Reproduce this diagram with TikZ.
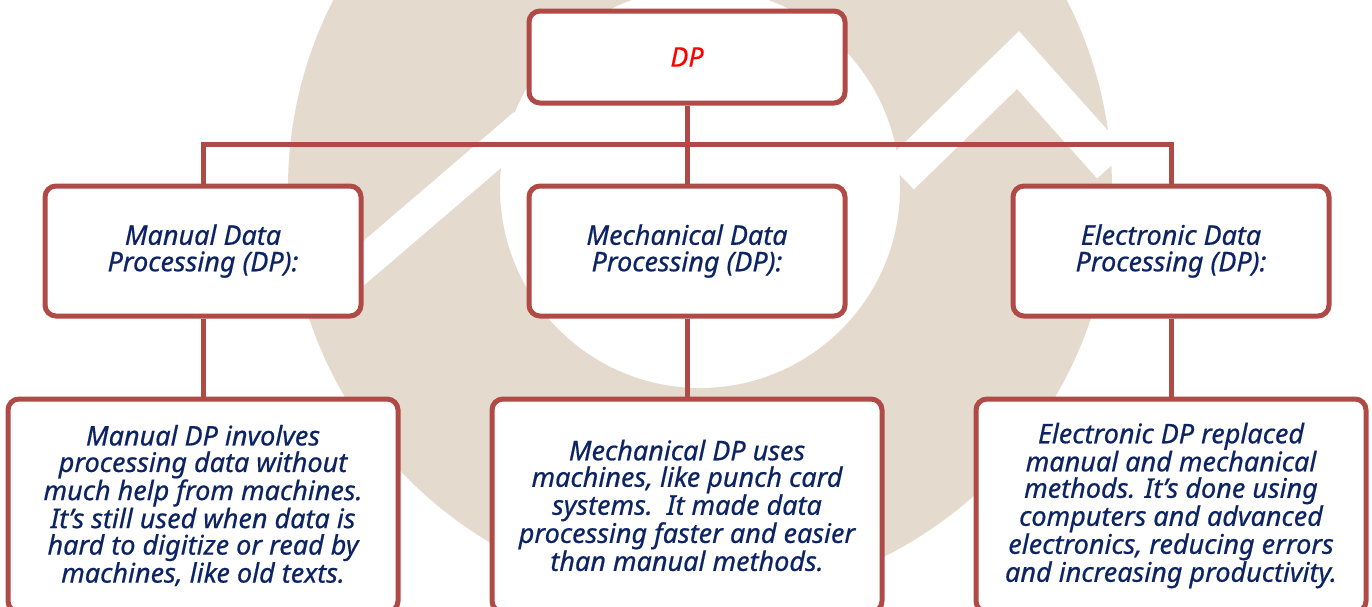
\documentclass[tikz,border=0pt]{standalone}
\usepackage{fontspec}
\setmainfont{Noto Sans}[ItalicFeatures={FakeBold=0.6}]
\usetikzlibrary{positioning, calc}
\definecolor{boxred}{RGB}{175,74,71}
\definecolor{inkblue}{RGB}{12,35,100}
\definecolor{ringtan}{RGB}{228,218,206}
\newcommand\apos{\char"27\relax}
\tikzset {
    x=1pt, y=1pt,
    node distance=78pt,
    every node/.style={font=\itshape\fontsize{27}{26.5}\selectfont, text=inkblue, align=center},
    topbox/.style={draw=boxred, line width=5pt, rounded corners=11pt, fill=white,
        minimum width=316pt, minimum height=92pt},
    head/.style={topbox, minimum height=130pt},
    desc/.style={topbox, minimum width=390pt, minimum height=213pt},
    link/.style={boxred, line width=5pt}
}

\begin{document}
\begin{tikzpicture}
    \useasboundingbox (0,0) rectangle (1372,-606);
    \clip (0,0) rectangle (1372,-606);

    \fill[ringtan, even odd rule] (700,-188) circle [radius=412pt]
        (700,-188) circle [radius=200pt];
    \draw[white, line width=34pt] (330,-292) -- (525,-125);
    \draw[white, line width=40pt, line join=miter] (900,-175) -- (1018,-60) -- (1112,-165);

    \node[topbox] (dp) at (687,-57) {\textcolor{red}{DP}};
    \node[head, below=of dp] (mech) {Mechanical Data\\ Processing (DP):};
    \node[head, left=163pt of mech] (man) {Manual Data\\ Processing (DP):};
    \node[head, right=163pt of mech] (elec) {Electronic Data\\ Processing (DP):};

    \node[desc, below=of man] (mandesc) {Manual DP involves\\ processing data without\\ much help from machines.\\ It\apos s still used when data is\\ hard to digitize or read by\\ machines, like old texts.};
    \node[desc, below=of mech] (mechdesc) {Mechanical DP uses\\ machines, like punch card\\ systems.\ \ It made data\\ processing faster and easier\\ than manual methods.};
    \node[desc, below=of elec] (elecdesc) {Electronic DP replaced\\ manual and mechanical\\ methods. It\apos s done using\\ computers and advanced\\ electronics, reducing errors\\ and increasing productivity.};

    \coordinate (bus) at ($(dp.south)!0.5!(mech.north)$);
    \draw[link] (dp.south) -- (mech.north);
    \draw[link] (man.north) |- (bus) -| (elec.north);
    \draw[link] (man.south) -- (mandesc.north);
    \draw[link] (mech.south) -- (mechdesc.north);
    \draw[link] (elec.south) -- (elecdesc.north);
\end{tikzpicture}
\end{document}
